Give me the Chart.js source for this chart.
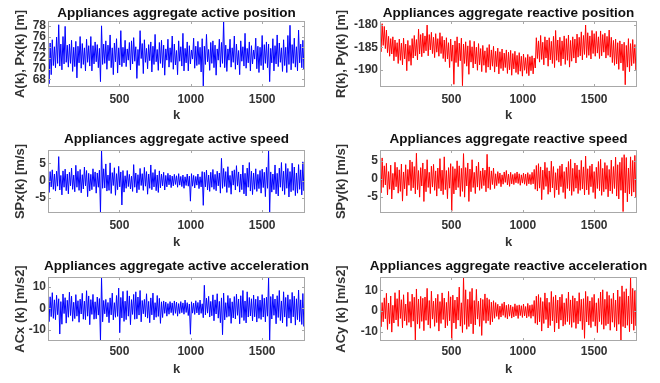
<!DOCTYPE html>
<html>
<head>
<meta charset="utf-8">
<script src="https://cdn.jsdelivr.net/npm/chart.js@4.4.0/dist/chart.umd.min.js"></script>
<style>
  html, body { margin: 0; padding: 0; background: #fff; }
  body { width: 660px; height: 383px; position: relative; overflow: hidden; }
  canvas { position: absolute; }
</style>
</head>
<body>
<canvas id="c0" width="330" height="127" style="left:0;top:0"></canvas>
<canvas id="c1" width="330" height="127" style="left:330px;top:0"></canvas>
<canvas id="c2" width="330" height="127" style="left:0;top:127px"></canvas>
<canvas id="c3" width="330" height="127" style="left:330px;top:127px"></canvas>
<canvas id="c4" width="330" height="129" style="left:0;top:254px"></canvas>
<canvas id="c5" width="330" height="129" style="left:330px;top:254px"></canvas>
<script>
// values every 7.5 k, alternately the top and the bottom of the noise band
const kStep = 7.5

const activePos = [
  73.9, 67.2, 74.8, 68.9, 75.4, 70.6, 74.1, 70.2, 75.9, 71.0, 78.2, 70.5, 74.6, 69.8, 76.0, 70.9, 77.9, 71.2, 74.4, 70.3,
  74.6, 71.0, 75.3, 69.5, 74.0, 70.4, 75.1, 68.3, 74.2, 71.1, 76.0, 70.1, 74.7, 70.8, 73.9, 69.6, 75.5, 71.2, 74.3, 70.5,
  76.0, 69.6, 74.3, 70.9, 75.0, 71.3, 74.5, 70.2, 73.8, 67.6, 78.0, 70.8, 74.6, 71.0, 75.2, 69.9, 74.4, 71.5, 76.3, 70.2,
  73.9, 68.9, 74.8, 71.3, 75.6, 69.2, 73.9, 70.7, 77.1, 70.4, 74.0, 71.1, 75.3, 70.4, 73.7, 71.6, 74.9, 69.8, 75.2, 70.9,
  75.8, 71.4, 74.1, 68.2, 73.6, 70.6, 77.1, 71.9, 74.7, 69.1, 75.4, 71.2, 73.8, 70.0, 74.5, 71.5, 75.0, 69.4, 74.2, 70.8,
  76.4, 71.3, 73.6, 69.7, 74.9, 71.0, 75.3, 70.2, 74.4, 68.8, 73.7, 71.6, 75.5, 70.3, 73.9, 71.2, 76.1, 69.9, 74.6, 70.7,
  73.4, 68.9, 75.2, 71.4, 74.1, 70.5, 76.6, 69.6, 73.8, 71.1, 75.0, 69.6, 74.3, 70.9, 73.5, 71.8, 75.7, 70.1, 74.2, 70.6,
  75.1, 70.8, 74.0, 69.4, 75.6, 66.8, 74.2, 70.8, 76.4, 71.3, 73.6, 69.7, 74.9, 71.0, 75.2, 70.2, 74.4, 68.8, 73.7, 71.6,
  75.5, 70.3, 74.9, 71.0, 78.9, 70.2, 74.4, 69.5, 73.7, 71.6, 75.5, 70.3, 73.9, 71.2, 76.1, 69.9, 74.6, 70.7, 73.4, 68.9,
  75.2, 71.4, 74.1, 70.5, 76.6, 70.1, 73.8, 71.1, 75.0, 69.6, 74.3, 70.9, 73.5, 71.8, 75.7, 70.0, 74.2, 69.3, 74.0, 70.6,
  76.2, 69.8, 74.5, 71.0, 75.0, 70.2, 74.6, 67.6, 73.8, 71.1, 75.6, 69.6, 74.3, 70.9, 76.3, 70.4, 74.8, 71.2, 73.9, 69.5,
  75.4, 70.6, 74.0, 69.3, 76.2, 70.8, 78.1, 69.8, 74.5, 71.0, 75.7, 70.3, 74.1, 69.6, 77.2, 71.1, 74.6, 70.2, 75.3, 69.9, 73.8
]

const reactivePos = [
  -183.5, -186.0, -179.8, -184.6, -180.4, -185.3, -181.2, -186.2, -182.6, -187.0, -183.1, -186.5, -182.7, -188.0, -183.4, -187.1, -184.0, -188.6, -183.2, -187.9,
  -184.1, -188.9, -183.0, -187.6, -184.3, -190.2, -183.5, -188.1, -184.6, -189.0, -183.1, -187.4, -182.4, -186.9, -183.3, -187.8, -181.0, -186.5, -182.2, -187.1,
  -181.9, -186.3, -182.5, -185.8, -180.1, -186.9, -182.2, -185.6, -181.7, -186.4, -182.8, -187.3, -182.0, -186.1, -183.1, -187.0, -181.8, -186.4, -182.6, -187.5,
  -183.4, -188.2, -182.9, -187.6, -184.0, -189.5, -183.2, -188.1, -184.5, -193.2, -183.6, -188.4, -182.7, -189.3, -184.1, -188.0, -183.0, -193.5, -184.3, -188.6,
  -183.8, -189.2, -184.7, -191.0, -183.5, -188.3, -184.9, -189.6, -183.7, -188.7, -185.0, -190.1, -184.2, -188.9, -185.3, -190.4, -184.6, -189.0, -185.8, -190.6,
  -185.1, -189.4, -184.4, -190.0, -185.6, -189.2, -184.8, -190.5, -185.9, -189.3, -185.2, -190.9, -186.0, -189.7, -185.4, -190.2, -186.3, -189.5, -185.6, -190.8,
  -186.1, -190.0, -185.7, -191.2, -186.4, -189.8, -185.9, -190.6, -186.8, -191.0, -186.2, -190.3, -187.0, -191.4, -186.5, -190.1, -187.3, -190.8, -186.6, -191.3,
  -187.1, -190.2, -186.9, -190.9, -187.4, -189.6, -182.9, -187.5, -183.6, -188.3, -182.4, -187.7, -183.9, -188.9, -182.7, -187.4, -183.4, -189.2, -182.9, -187.8,
  -183.7, -188.6, -182.6, -189.5, -181.3, -187.9, -183.4, -188.3, -182.8, -189.1, -183.6, -187.6, -182.5, -188.8, -183.1, -187.9, -182.3, -189.4, -183.5, -188.1,
  -182.7, -187.4, -183.2, -188.5, -182.1, -187.2, -182.8, -186.9, -181.6, -187.8, -182.4, -186.6, -180.1, -187.3, -181.8, -186.8, -182.5, -187.6, -181.3, -186.4,
  -182.0, -187.0, -181.5, -186.3, -182.7, -187.5, -181.4, -186.9, -182.2, -186.1, -181.9, -187.4, -182.6, -186.8, -181.2, -187.2, -182.8, -188.4, -183.5, -189.0,
  -183.2, -188.7, -184.0, -189.9, -183.6, -188.5, -184.3, -190.2, -183.9, -193.3, -184.6, -189.4, -183.1, -190.4, -184.2, -189.1, -183.3, -188.6, -184.4, -190.0, -185.5
]

const activeSpeed = [
  2.1, -3.4, 2.6, -1.8, 3.1, -2.5, 1.9, -3.0, 2.7, -1.6, 6.9, -2.7, 1.5, -4.1, 2.8, -1.9, 3.3, -2.9, 1.9, -3.8,
  2.4, -1.5, 3.6, -2.5, 1.6, -3.2, 4.4, -1.9, 2.7, -2.8, 3.2, -3.5, 1.7, -2.4, 3.9, -1.5, 2.9, -4.6, 2.1, -3.0,
  1.8, -2.6, 3.4, -1.7, 2.5, -3.6, 2.2, -1.9, 3.0, -9.3, 8.8, -2.2, 3.4, -2.1, 4.8, -3.0, 1.6, -2.8, 5.1, -3.7,
  2.3, -1.4, 3.7, -4.2, 2.0, -2.6, 4.1, -1.8, 2.5, -7.0, 2.9, -3.3, 1.4, -2.2, 2.9, -1.7, 1.8, -2.4, 1.3, -3.1,
  4.6, -1.9, 2.2, -3.5, 1.7, -2.6, 3.5, -1.4, 2.0, -2.8, 3.8, -1.6, 2.6, -3.9, 1.9, -2.2, 4.5, -2.6, 2.3, -1.8,
  3.2, -2.9, 1.6, -3.4, 2.8, -2.1, 1.9, -1.5, 2.4, -2.7, 1.5, -1.8, 2.1, -1.2, 1.6, -2.0, 1.3, -1.5, 1.8, -1.1,
  1.4, -1.9, 2.0, -1.3, 1.2, -1.7, 1.6, -2.2, 1.1, -1.4, 1.9, -1.6, 1.3, -5.9, 2.0, -1.6, 1.5, -2.1, 1.2, -1.3,
  1.9, -2.3, 1.1, -1.8, 2.6, -7.1, 2.4, -1.8, 3.0, -2.7, 1.6, -3.1, 2.4, -1.9, 3.2, -2.5, 1.8, -2.9, 2.7, -1.5,
  2.2, -3.6, 6.4, -2.2, 3.5, -1.7, 2.6, -3.4, 4.0, -2.0, 1.5, -3.9, 2.8, -1.3, 3.1, -2.7, 4.3, -1.6, 2.5, -3.3,
  1.9, -2.6, 4.5, -3.8, 2.1, -4.4, 3.6, -1.9, 5.2, -3.0, 2.7, -4.0, 2.2, -2.5, 3.4, -3.1, 1.8, -2.3, 2.9, -3.6,
  3.3, -2.0, 2.4, -4.6, 3.8, -2.2, 8.8, -9.3, 2.5, -3.3, 1.9, -2.6, 4.5, -3.8, 2.1, -4.4, 3.6, -1.9, 5.2, -3.0,
  2.7, -4.0, 4.9, -2.2, 3.5, -4.7, 2.6, -3.2, 5.0, -2.8, 3.9, -4.3, 2.2, -3.6, 4.6, -2.5, 3.1, -4.1, 5.4, -2.9, 2.0
]

const reactiveSpeed = [
  2.1, -3.9, 5.8, -2.4, 3.6, -1.7, 4.3, -4.5, 2.0, -2.9, 3.8, -5.6, 1.5, -3.1, 4.6, -2.2, 3.2, -4.0, 2.5, -3.5,
  4.1, -6.2, 1.9, -2.8, 3.9, -4.7, 2.6, -1.8, 5.2, -3.3, 4.7, -2.5, 3.4, -4.2, 7.1, -3.0, 2.3, -5.1, 3.1, -2.0,
  4.4, -6.3, 2.7, -3.6, 5.3, -2.4, 1.8, -4.1, 3.5, -2.3, 4.0, -3.2, 2.2, -4.8, 3.0, -2.7, 5.6, -3.4, 2.4, -4.4,
  6.1, -3.0, 2.3, -5.5, 3.1, -2.6, 4.2, -9.0, 3.4, -4.2, 2.8, -3.1, 5.0, -2.4, 3.6, -4.9, 2.9, -3.5, 7.0, -5.1,
  3.1, -2.0, 4.4, -6.3, 2.7, -3.6, 5.3, -2.4, 1.8, -4.1, 3.5, -2.3, 4.6, -3.2, 2.2, -2.7, 3.0, -1.9, 2.4, -3.6,
  6.8, -2.6, 3.3, -3.0, 2.2, -1.6, 3.0, -2.7, 1.4, -1.9, 2.0, -1.3, 1.6, -2.2, 1.1, -1.5, 1.9, -1.0, 2.3, -1.7,
  1.3, -2.1, 1.8, -1.4, 1.2, -1.6, 1.5, -1.1, 1.9, -1.3, 1.4, -1.8, 1.1, -1.2, 1.6, -1.5, 1.3, -1.9, 1.7, -1.4,
  1.2, -1.6, 1.8, -1.4, 2.6, -2.9, 3.7, -3.4, 4.2, -2.6, 3.3, -5.8, 2.4, -3.0, 4.6, -2.1, 3.1, -4.3, 2.2, -3.7,
  4.9, -2.5, 3.4, -5.2, 1.7, -3.1, 2.8, -4.4, 3.6, -2.2, 4.1, -3.8, 2.0, -5.5, 3.2, -2.7, 4.8, -3.3, 5.4, -4.6,
  2.9, -3.5, 4.4, -2.6, 3.8, -4.1, 2.5, -3.2, 5.1, -2.8, 3.3, -4.5, 6.3, -3.1, 2.8, -4.4, 3.6, -2.2, 4.1, -3.8,
  2.0, -5.5, 3.2, -2.7, 4.8, -3.3, 5.4, -4.6, 2.9, -3.6, 4.5, -2.9, 3.7, -5.0, 2.6, -3.4, 5.2, -4.1, 3.4, -2.7,
  6.0, -4.8, 3.9, -5.6, 4.6, -3.2, 5.9, -9.1, 6.7, -3.9, 5.9, -6.4, 3.0, -4.2, 6.1, -4.8, 5.1, -3.7, 6.5, -5.2, 4.0
]

const activeAcc = [
  2.5, -6.1, 5.3, -3.8, 7.2, -4.6, 3.9, -5.2, 6.0, -2.9, 4.4, -11.8, 3.1, -7.3, 6.6, -2.4, 4.9, -6.8, 3.7, -4.1,
  7.4, -3.3, 5.6, -5.9, 2.8, -4.7, 6.3, -3.6, 3.5, -6.4, 4.2, -2.6, 6.9, -5.0, 3.3, -5.2, 8.1, -3.6, 5.7, -7.5,
  4.0, -2.8, 6.4, -5.0, 3.0, -4.8, 5.2, -3.1, 4.5, -15.0, 13.9, -6.2, 3.6, -2.5, 4.1, -3.9, 2.7, -6.6, 4.8, -3.0,
  7.0, -5.3, 2.6, -4.1, 5.9, -3.7, 9.3, -11.2, 5.0, -4.4, 7.8, -6.0, 3.3, -5.2, 8.1, -3.6, 5.7, -7.5, 4.0, -2.8,
  6.4, -5.0, 7.6, -4.8, 5.2, -3.1, 8.2, -6.2, 3.6, -2.5, 4.1, -3.9, 6.7, -4.5, 3.2, -6.6, 4.8, -3.0, 7.0, -5.3,
  2.6, -4.1, 5.9, -3.7, 4.6, -6.9, 3.0, -4.2, 3.4, -2.3, 2.9, -3.6, 2.2, -2.7, 3.1, -2.0, 2.5, -3.2, 3.4, -2.3,
  2.9, -3.6, 2.2, -2.4, 3.1, -2.0, 2.5, -2.7, 3.8, -1.9, 2.6, -3.3, 2.0, -11.9, 3.0, -2.2, 2.4, -2.8, 3.5, -2.1,
  2.7, -3.0, 3.8, -2.3, 2.1, -4.3, 10.6, -3.0, 4.7, -2.2, 5.5, -4.0, 3.2, -3.4, 6.2, -5.7, 3.9, -2.6, 6.7, -4.5,
  3.2, -6.6, 4.8, -12.1, 7.0, -5.3, 2.6, -4.1, 5.9, -3.7, 4.6, -6.9, 3.0, -4.4, 5.4, -4.9, 6.5, -3.2, 4.3, -7.1,
  5.8, -4.2, 8.2, -5.6, 3.4, -6.7, 7.6, -4.0, 5.0, -3.5, 4.4, -5.8, 6.1, -3.9, 4.2, -6.3, 5.5, -4.6, 3.8, -5.1,
  6.3, -4.0, 4.7, -6.2, 5.1, -3.6, 13.9, -15.0, 5.4, -4.9, 6.5, -3.2, 4.3, -7.1, 5.8, -4.2, 8.2, -5.6, 3.4, -6.7,
  7.6, -4.0, 5.0, -8.3, 6.2, -4.5, 4.1, -6.8, 7.3, -3.9, 5.6, -7.7, 4.4, -5.2, 8.4, -6.1, 3.9, -7.4, 6.8, -8.3, 4.5
]

const reactiveAcc = [
  9.8, -7.6, 4.1, -5.2, 6.4, -3.7, 8.6, -8.9, 3.9, -6.1, 7.3, -10.2, 2.8, -5.8, 8.9, -4.3, 6.0, -7.4, 10.1, -3.6,
  5.5, -8.1, 7.9, -4.8, 3.4, -6.9, 9.1, -5.5, 4.6, -7.8, 8.2, -4.9, 6.7, -14.0, 10.7, -6.3, 5.8, -8.4, 7.1, -5.0,
  6.2, -9.5, 6.8, -4.5, 11.0, -6.7, 5.1, -8.3, 9.6, -3.9, 4.8, -7.4, 6.2, -5.6, 8.1, -9.7, 4.6, -6.0, 8.8, -4.1,
  6.3, -8.2, 4.2, -7.0, 9.5, -4.7, 6.9, -14.0, 7.7, -5.8, 5.3, -8.6, 6.8, -4.4, 11.6, -7.3, 4.0, -10.4, 16.2, -6.5,
  10.3, -8.8, 5.7, -7.5, 9.4, -6.2, 11.0, -11.0, 5.1, -6.7, 10.5, -3.9, 4.8, -7.4, 6.2, -11.8, 5.6, -4.6, 8.3, -5.9,
  6.4, -4.7, 5.6, -6.6, 4.3, -5.2, 5.0, -3.5, 4.1, -2.6, 3.3, -4.0, 2.4, -2.9, 3.6, -2.1, 4.4, -3.1, 2.8, -3.8,
  3.2, -2.5, 2.9, -3.4, 2.1, -2.8, 3.5, -2.3, 2.7, -3.6, 3.0, -2.2, 2.6, -3.1, 3.4, -2.4, 2.2, -3.3, 3.7, -2.6,
  2.8, -3.5, 3.1, -2.5, 5.1, -5.9, 7.2, -6.6, 8.0, -5.2, 6.5, -9.7, 4.6, -6.0, 8.8, -4.1, 6.3, -8.2, 4.2, -7.0,
  9.5, -4.7, 6.9, -10.1, 7.7, -5.8, 5.3, -8.6, 6.8, -4.4, 8.1, -7.3, 4.0, -6.5, 6.1, -5.1, 9.2, -6.5, 5.4, -7.9,
  7.4, -5.5, 6.3, -8.4, 4.8, -6.2, 8.9, -4.9, 5.7, -9.0, 6.0, -13.2, 9.5, -5.3, 7.1, -6.8, 4.9, -8.0, 6.6, -5.1,
  8.1, -7.3, 4.0, -10.4, 6.1, -5.1, 9.2, -6.5, 10.3, -8.8, 5.7, -7.0, 9.4, -6.2, 7.6, -9.3, 6.0, -5.4, 8.7, -7.8,
  5.3, -9.6, 10.2, -6.4, 7.0, -14.1, 12.2, -7.5, 9.4, -8.2, 10.8, -6.9, 7.3, -10.0, 16.1, -6.2, 11.0, -9.3, 9.8, -7.1, 10.5
]

const kTicks = [500, 1000, 1500]
const activePosTicks = [68, 70, 72, 74, 76, 78]
const reactivePosTicks = [-190, -185, -180]
const speedTicks = [-5, 0, 5]
const accTicks = [-10, 0, 10]

const titles = [
  "Appliances aggregate active position",
  "Appliances aggregate reactive position",
  "Appliances aggregate active speed",
  "Appliances aggregate reactive speed",
  "Appliances aggregate active acceleration",
  "Appliances aggregate reactive acceleration",
]
const yLabels = [
  "A(k), Px(k) [m]", "R(k), Py(k) [m]",
  "SPx(k) [m/s]", "SPy(k) [m/s]",
  "ACx (k) [m/s2]", "ACy (k) [m/s2]",
]

const FONT = '"Liberation Sans", Arial, Helvetica, sans-serif'
const BOX = "#a8a8a8"

// layout per row / column
const rows = [
  { top: 21, xAxisH: 40, titleOff: 8, tickPad: 5, kPad: 4 },
  { top: 23, xAxisH: 41, titleOff: 11, tickPad: 5.5, kPad: 4 },
  { top: 23, xAxisH: 42, titleOff: 10.5, tickPad: 3, kPad: 6 },
]
const cols = [
  { yAxisW: 48, padRight: 25, yTitlePad: 13 },
  { yAxisW: 50, padRight: 23, yTitlePad: 4 },
]

const panelDecor = {
  id: "panelDecor",
  afterDraw(chart, args, opts) {
    const { ctx, chartArea: a, scales } = chart
    ctx.save()
    ctx.strokeStyle = BOX
    ctx.lineWidth = 1
    ctx.strokeRect(a.left + 0.5, a.top + 0.5, a.width - 1, a.height - 1)
    ctx.beginPath()
    scales.y.ticks.forEach((t) => {
      const y = Math.round(scales.y.getPixelForValue(t.value)) + 0.5
      ctx.moveTo(a.left, y); ctx.lineTo(a.left + 3, y)
      ctx.moveTo(a.right, y); ctx.lineTo(a.right - 3, y)
    })
    scales.x.ticks.forEach((t) => {
      const x = Math.round(scales.x.getPixelForValue(t.value)) + 0.5
      ctx.moveTo(x, a.bottom); ctx.lineTo(x, a.bottom - 3)
      ctx.moveTo(x, a.top); ctx.lineTo(x, a.top + 3)
    })
    ctx.stroke()
    ctx.fillStyle = "#111"
    ctx.font = "bold 13.5px " + FONT
    ctx.textAlign = "center"
    ctx.textBaseline = "middle"
    ctx.fillText(opts.text, (a.left + a.right) / 2, a.top - opts.offset)
    ctx.restore()
  },
}

function createPanel(idx, values, color, yMin, yMax, yTicks) {
  const row = rows[Math.floor(idx / 2)]
  const col = cols[idx % 2]
  const points = values.map((v, i) => ({ x: i * kStep, y: v }))

  const config = {
    type: "line",
    data: {
      datasets: [{
        data: points,
        borderColor: color,
        borderWidth: 1,
        pointRadius: 0,
        tension: 0,
        fill: false,
      }],
    },
    options: {
      responsive: false,
      animation: false,
      devicePixelRatio: 1,
      layout: { padding: { left: 0, right: col.padRight, top: row.top, bottom: 0 } },
      plugins: {
        legend: { display: false },
        tooltip: { enabled: false },
        panelDecor: { text: titles[idx], offset: row.titleOff },
      },
      scales: {
        x: {
          type: "linear",
          min: 0,
          max: 1800,
          afterBuildTicks: (s) => { s.ticks = kTicks.map((v) => ({ value: v })) },
          afterFit: (s) => { s.height = row.xAxisH },
          grid: { display: false, drawTicks: false },
          border: { display: false },
          ticks: {
            autoSkip: false,
            maxRotation: 0,
            padding: row.tickPad,
            color: "#333",
            callback: (v) => String(v),
            font: { family: FONT, size: 12, weight: "bold" },
          },
          title: {
            display: true,
            text: "k",
            color: "#333",
            padding: { top: 0, bottom: row.kPad },
            font: { family: FONT, size: 13, weight: "bold" },
          },
        },
        y: {
          type: "linear",
          min: yMin,
          max: yMax,
          afterBuildTicks: (s) => { s.ticks = yTicks.map((v) => ({ value: v })) },
          afterFit: (s) => { s.width = col.yAxisW },
          grid: { display: false, drawTicks: false },
          border: { display: false },
          ticks: {
            autoSkip: false,
            padding: 2,
            color: "#333",
            callback: (v) => String(v),
            font: { family: FONT, size: 12, weight: "bold" },
          },
          title: {
            display: true,
            text: yLabels[idx],
            color: "#333",
            padding: { top: col.yTitlePad, bottom: 0 },
            font: { family: FONT, size: 13, weight: "bold" },
          },
        },
      },
    },
    plugins: [panelDecor],
  }

  return new Chart(document.getElementById("c" + idx), config)
}

document.addEventListener("DOMContentLoaded", () => {
  createPanel(0, activePos, "#0000ff", 66.6, 78.9, activePosTicks)
  createPanel(1, reactivePos, "#ff0000", -193.8, -179.2, reactivePosTicks)
  createPanel(2, activeSpeed, "#0000ff", -9.3, 8.8, speedTicks)
  createPanel(3, reactiveSpeed, "#ff0000", -9.5, 8, speedTicks)
  createPanel(4, activeAcc, "#0000ff", -15, 14.4, accTicks)
  createPanel(5, reactiveAcc, "#ff0000", -14.5, 16.5, accTicks)
})
</script>
</body>
</html>
